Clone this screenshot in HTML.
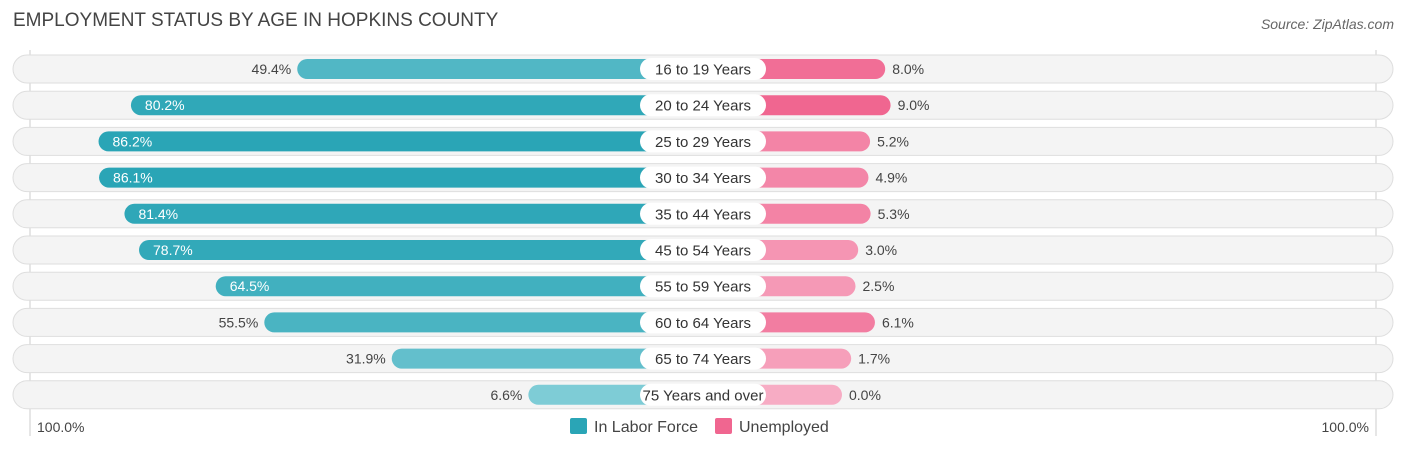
<!DOCTYPE html>
<html><head><meta charset="utf-8"><style>
body{margin:0;width:1406px;height:451px;background:#fff;font-family:"Liberation Sans",sans-serif;overflow:hidden;position:relative}
.t{position:absolute;left:13px;top:10px;font-size:19px;color:#444}
.src{position:absolute;right:12px;top:16px;font-size:14px;color:#666;font-style:italic}
</style></head><body>
<div class="t">EMPLOYMENT STATUS BY AGE IN HOPKINS COUNTY</div>
<div class="src">Source: ZipAtlas.com</div>
<svg id="c" width="1406" height="451" style="position:absolute;left:0;top:0"></svg>
<script>
const categories=["16 to 19 Years","20 to 24 Years","25 to 29 Years","30 to 34 Years","35 to 44 Years","45 to 54 Years","55 to 59 Years","60 to 64 Years","65 to 74 Years","75 Years and over"];
const laborForce=[49.4,80.2,86.2,86.1,81.4,78.7,64.5,55.5,31.9,6.6];
const unemployed=[8.0,9.0,5.2,4.9,5.3,3.0,2.5,6.1,1.7,0.0];
const axisLabels=["100.0%","100.0%"];
const NS="http://www.w3.org/2000/svg";
const svg=document.getElementById('c');
const cx=703,base=139,k=5.4;
function len(v){return base+k*v;}
function rowY(i){return 69+i*36.2;}
function mix(a,b,t){return a.map((x,j)=>Math.round(x+(b[j]-x)*t));}
function el(tag,attrs,parent){const e=document.createElementNS(NS,tag);for(const a in attrs)e.setAttribute(a,attrs[a]);(parent||svg).appendChild(e);return e;}
el('line',{x1:30,y1:50,x2:30,y2:436,stroke:'#ccc','stroke-width':1});
el('line',{x1:1376,y1:50,x2:1376,y2:436,stroke:'#ccc','stroke-width':1});
const maxL=Math.max(...laborForce),maxU=Math.max(...unemployed,1);
categories.forEach((c,i)=>{
  const y=rowY(i);
  const g=el('g',{});
  
  
  el('rect',{x:13,y:y-14,width:1380,height:28,rx:14,fill:'#f4f4f4',stroke:'#dedede','stroke-width':1},g);
  const lc=mix([133,207,217],[42,165,182],laborForce[i]/maxL);
  const lw=len(laborForce[i]);
  const lb=el('rect',{x:cx-lw,y:y-10,width:lw,height:20,rx:10,fill:`rgb(${lc})`},g);
  
  
  const uc=mix([247,172,196],[240,102,144],unemployed[i]/maxU);
  const uw=len(unemployed[i]);
  const ub=el('rect',{x:cx,y:y-10,width:uw,height:20,rx:10,fill:`rgb(${uc})`},g);
  
  
  const lab=el('rect',{x:cx-63,y:y-11,width:126,height:22,rx:11,fill:'#fff'},g);
  const lt=el('text',{x:cx,y:y+5.5,'text-anchor':'middle','font-size':15,fill:'#333'},g);
  lt.textContent=c;
  
  
  const inside=laborForce[i]>60;
  const vt=el('text',{x:inside?cx-lw+14:cx-lw-6,y:y+5,'text-anchor':inside?'start':'end','font-size':14,fill:inside?'#fff':'#444'},g);
  vt.textContent=laborForce[i].toFixed(1)+'%';
  
  
  const ut=el('text',{x:cx+uw+7,y:y+5,'font-size':14,fill:'#444'},g);
  ut.textContent=unemployed[i].toFixed(1)+'%';
  
  
});
const a1=el('text',{x:37,y:432,'font-size':14,fill:'#444'});a1.textContent=axisLabels[0];


const a2=el('text',{x:1369,y:432,'font-size':14,fill:'#444','text-anchor':'end'});a2.textContent=axisLabels[1];


const lg=el('g',{});


el('rect',{x:570,y:418,width:17,height:16,rx:2,fill:'#2aa5b6'},lg);
const l1=el('text',{x:594,y:432,'font-size':16,fill:'#444'},lg);l1.textContent='In Labor Force';


el('rect',{x:715,y:418,width:17,height:16,rx:2,fill:'#f06690'},lg);
const l2=el('text',{x:739,y:432,'font-size':16,fill:'#444'},lg);l2.textContent='Unemployed';


</script>
</body></html>
